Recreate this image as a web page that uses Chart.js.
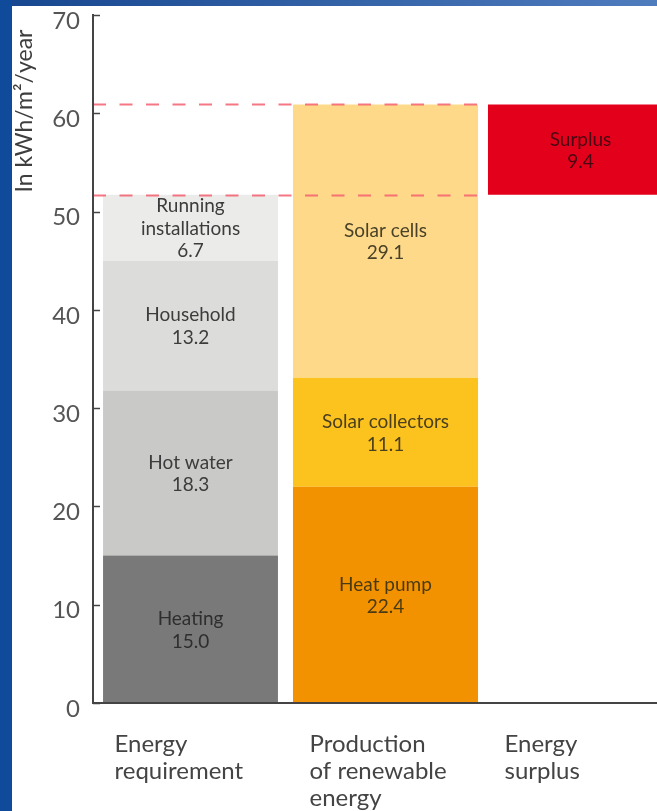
<!DOCTYPE html>
<html>
<head>
<meta charset="utf-8">
<script src="https://cdn.jsdelivr.net/npm/chart.js@4.4.1/dist/chart.umd.min.js"></script>
<style>
html, body { margin: 0; padding: 0; background: #fff; overflow: hidden; width: 657px; height: 811px; }
#wrap { position: relative; width: 657px; height: 811px; overflow: hidden; }
#chart { position: absolute; left: 0; top: 0; }
#topBar { position: absolute; left: 0; top: 0; width: 657px; height: 6px; background: linear-gradient(to right, #16468f, #4f7cbd); z-index: 2; }
#leftBar { position: absolute; left: 0; top: 0; width: 12px; height: 811px; background: #0f4a9b; z-index: 2; }
</style>
</head>
<body>
<div id="wrap">
    <canvas id="chart" width="678" height="811"></canvas>
    <div id="topBar"></div>
    <div id="leftBar"></div>
</div>
<script>
// ============ DATA ============
const categories = [['Energy', 'requirement'], ['Production', 'of renewable', 'energy'], ['Energy', 'surplus']];
const requirementNames = [['Heating'], ['Hot water'], ['Household'], ['Running', 'installations']];
const requirementValues = [15.0, 16.8, 13.2, 6.7];      // heights as drawn
const requirementLabels = ['15.0', '18.3', '13.2', '6.7']; // values as printed
const productionNames = [['Heat pump'], ['Solar collectors'], ['Solar cells']];
const productionValues = [22.0, 11.1, 27.8];
const productionLabels = ['22.4', '11.1', '29.1'];
const surplusNames = ['Surplus'];
const surplusValue = 9.2;
const surplusLabel = '9.4';
const yTicks = [0, 10, 20, 30, 40, 50, 60, 70];
const yTitle = 'In kWh/m²/year';

// ============ STYLE ============
const requirementColors = ['#797979', '#c9c9c7', '#dcdcdb', '#ebebe9'];
const requirementText = ['#2e2e2e', '#3c3c3c', '#3c3c3c', '#3c3c3c'];
const productionColors = ['#f39200', '#fcc31e', '#fed98a'];
const productionText = ['#4a3a14', '#4a3f1e', '#4a4228'];
const surplusColor = '#e3001b';
const FONT = 'Lato, "Open Sans", sans-serif';

const sum = arr => arr.reduce((a, b) => a + b, 0);
const requirementTotal = sum(requirementValues);

// ============ DATASETS ============
const datasets = [];
const segmentText = [];
requirementValues.forEach((v, i) => {
    datasets.push({ label: requirementNames[i].join(' '), data: [v, null, null],
        backgroundColor: requirementColors[i], barPercentage: 0.897, categoryPercentage: 1 });
    segmentText.push({ lines: [...requirementNames[i], requirementLabels[i]], color: requirementText[i], index: 0 });
});
productionValues.forEach((v, i) => {
    datasets.push({ label: productionNames[i].join(' '), data: [null, v, null],
        backgroundColor: productionColors[i], barPercentage: 0.949, categoryPercentage: 1 });
    segmentText.push({ lines: [...productionNames[i], productionLabels[i]], color: productionText[i], index: 1 });
});
datasets.push({ label: 'base', data: [null, null, requirementTotal],
    backgroundColor: 'rgba(0,0,0,0)', barPercentage: 0.949, categoryPercentage: 1 });
segmentText.push(null);
datasets.push({ label: 'Surplus', data: [null, null, surplusValue],
    backgroundColor: surplusColor, barPercentage: 0.949, categoryPercentage: 1 });
segmentText.push({ lines: [...surplusNames, surplusLabel], color: '#4a0612', index: 2 });

function drawLines(ctx, lines, x, cy, pitch) {
    const n = lines.length;
    lines.forEach((t, k) => ctx.fillText(t, x, cy + (k - (n - 1) / 2) * pitch));
}

const decorations = {
    id: 'decorations',
    beforeDraw(chart) {
        const ctx = chart.ctx;
        ctx.save();
        ctx.fillStyle = '#fff';
        ctx.fillRect(0, 0, chart.width, chart.height);
        ctx.restore();
    },
    afterDatasetsDraw(chart) {
        const ctx = chart.ctx;
        const area = chart.chartArea;
        const y = chart.scales.y;

        // dashed reference lines at both totals
        const surplusMeta = chart.getDatasetMeta(datasets.length - 1);
        const sBar = surplusMeta.data[2];
        const lineEnd = sBar.x - sBar.width / 2;
        ctx.save();
        ctx.strokeStyle = 'rgba(245, 95, 110, 0.85)';
        ctx.lineWidth = 2;
        ctx.setLineDash([13, 13.5]);
        [requirementTotal, sum(productionValues)].forEach(v => {
            const py = Math.round(y.getPixelForValue(v)) + 0.5;
            ctx.beginPath();
            ctx.moveTo(area.left, py);
            ctx.lineTo(lineEnd, py);
            ctx.stroke();
        });
        ctx.restore();

        // segment labels
        ctx.save();
        ctx.font = '19px ' + FONT;
        ctx.textAlign = 'center';
        ctx.textBaseline = 'middle';
        segmentText.forEach((st, i) => {
            if (!st) return;
            const el = chart.getDatasetMeta(i).data[st.index];
            ctx.fillStyle = st.color;
            drawLines(ctx, st.lines, el.x, (el.y + el.base) / 2 + 1, 22.5);
        });
        ctx.restore();
    },
    afterDraw(chart) {
        const ctx = chart.ctx;
        const area = chart.chartArea;
        const y = chart.scales.y;
        const x = chart.scales.x;

        // inner tick marks
        ctx.save();
        ctx.strokeStyle = '#444';
        ctx.lineWidth = 1.5;
        yTicks.forEach(t => {
            const py = Math.round(y.getPixelForValue(t)) + 0.5;
            ctx.beginPath();
            ctx.moveTo(area.left, py);
            ctx.lineTo(area.left + 7, py);
            ctx.stroke();
        });
        ctx.restore();

        // axis title, rotated, at the top
        ctx.save();
        ctx.font = '23px ' + FONT;
        ctx.fillStyle = '#3e3e3e';
        ctx.textAlign = 'center';
        ctx.textBaseline = 'middle';
        ctx.translate(25, 111);
        ctx.rotate(-Math.PI / 2);
        drawLines(ctx, [yTitle], 0, 0, 0);
        ctx.restore();

        // category labels under the bars
        ctx.save();
        ctx.font = '24px ' + FONT;
        ctx.fillStyle = '#444';
        ctx.textAlign = 'left';
        ctx.textBaseline = 'middle';
        categories.forEach((lines, i) => {
            const px = x.getPixelForValue(i) - 76;
            lines.forEach((t, k) => ctx.fillText(t, px, 744 + k * 27));
        });
        ctx.restore();
    }
};

new Chart(document.getElementById('chart').getContext('2d'), {
    type: 'bar',
    data: { labels: categories.map(c => c.join(' ')), datasets },
    options: {
        responsive: false,
        animation: false,
        layout: { padding: { top: 15, right: 0, bottom: 108, left: 0 } },
        plugins: { legend: { display: false }, tooltip: { enabled: false } },
        scales: {
            x: {
                stacked: true,
                ticks: { display: false },
                grid: { display: false, drawTicks: false },
                border: { display: true, color: '#444', width: 2, z: 1 }
            },
            y: {
                stacked: true,
                min: 0,
                max: 70,
                afterFit: s => { s.width = 93; s.paddingTop = 0; s.paddingBottom = 0; },
                afterBuildTicks: s => { s.ticks = yTicks.map(v => ({ value: v })); },
                ticks: { padding: 13, labelOffset: 6, color: '#555', font: { family: FONT, size: 24 } },
                grid: { display: false, drawTicks: false },
                border: { display: true, color: '#444', width: 2, z: 1 }
            }
        }
    },
    plugins: [decorations]
});
</script>
</body>
</html>
